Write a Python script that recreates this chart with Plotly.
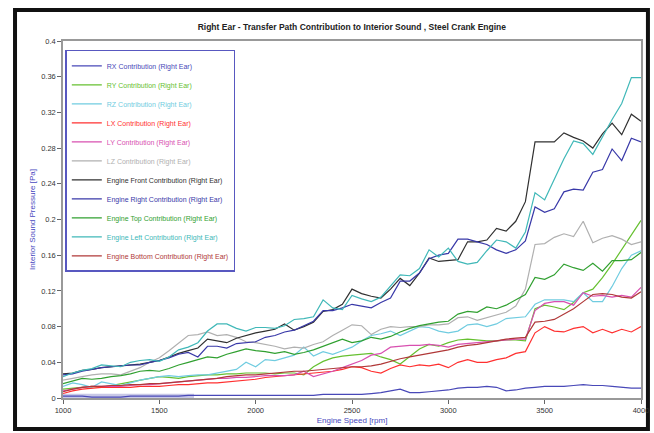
import plotly.graph_objects as go

rpm = list(range(1000, 4001, 50))

rx = [.002, .002, .002, .001, .001, .001, .001, .002, .002, .002, .002, .002, .002, .003, .003, .003, .003, .003, .003, .003,
      .003, .003, .003, .003, .003, .003, .003, .004, .004, .004, .004, .004, .005, .006, .008, .010, .006, .006, .007, .008,
      .009, .011, .012, .012, .013, .012, .008, .009, .011, .012, .013, .013, .013, .014, .015, .014, .014, .013, .012, .011, .011]
ry = [.010, .011, .012, .013, .012, .014, .016, .018, .020, .022, .024, .023, .022, .024, .025, .026, .026, .027, .027, .028,
      .028, .028, .027, .028, .028, .026, .035, .041, .045, .047, .048, .049, .050, .046, .043, .038, .047, .055, .060, .058,
      .062, .065, .066, .065, .064, .064, .065, .065, .064, .100, .104, .102, .099, .107, .118, .122, .135, .150, .166, .183, .199]
rz = [.013, .017, .015, .012, .018, .016, .014, .017, .020, .022, .024, .025, .024, .025, .026, .026, .028, .030, .032, .040,
      .035, .043, .042, .045, .048, .057, .047, .052, .049, .053, .057, .064, .070, .072, .075, .070, .075, .080, .079, .075,
      .073, .075, .082, .083, .080, .083, .089, .090, .091, .105, .110, .110, .110, .108, .118, .108, .108, .125, .145, .160, .165]
lx = [.005, .008, .010, .011, .012, .012, .012, .012, .013, .013, .013, .014, .015, .015, .016, .017, .017, .018, .019, .020,
      .021, .023, .024, .025, .026, .027, .028, .029, .030, .032, .035, .034, .030, .028, .033, .037, .035, .037, .036, .038,
      .034, .040, .043, .040, .040, .043, .045, .050, .052, .073, .080, .075, .074, .078, .080, .073, .077, .073, .077, .074, .080]
ly = [.008, .010, .012, .013, .013, .013, .013, .014, .015, .015, .016, .017, .018, .019, .020, .021, .022, .022, .023, .023,
      .024, .025, .025, .025, .026, .030, .024, .027, .030, .034, .038, .042, .048, .050, .057, .058, .059, .059, .060, .059,
      .057, .060, .061, .062, .063, .064, .065, .066, .066, .098, .106, .108, .108, .104, .118, .114, .115, .113, .115, .113, .124]
lz = [.020, .022, .024, .026, .027, .027, .026, .030, .034, .040, .045, .053, .062, .070, .071, .074, .070, .071, .068, .063,
      .062, .060, .058, .055, .057, .056, .060, .063, .070, .076, .082, .081, .071, .077, .080, .079, .080, .080, .082, .082,
      .083, .090, .091, .087, .090, .093, .096, .103, .122, .172, .173, .180, .184, .181, .198, .174, .179, .182, .178, .172, .175]
eng_front = [.027, .028, .031, .032, .034, .035, .036, .037, .038, .040, .042, .046, .050, .053, .056, .066, .064, .062, .067, .070,
             .073, .075, .077, .083, .076, .080, .085, .097, .099, .105, .122, .117, .114, .112, .122, .134, .126, .140, .157, .153,
             .154, .155, .175, .175, .177, .190, .187, .198, .220, .287, .287, .287, .297, .292, .288, .280, .296, .308, .295, .318, .310]
eng_right = [.026, .027, .030, .032, .034, .035, .036, .037, .037, .040, .042, .045, .049, .051, .046, .058, .058, .056, .061, .062,
             .063, .068, .070, .074, .076, .081, .086, .098, .098, .101, .105, .103, .101, .107, .112, .131, .131, .140, .156, .160,
             .162, .178, .178, .175, .172, .166, .162, .166, .176, .214, .208, .212, .231, .234, .233, .253, .256, .279, .266, .291, .287]
eng_top = [.016, .019, .022, .021, .022, .024, .025, .027, .030, .031, .030, .033, .037, .040, .043, .046, .045, .049, .052, .055,
           .053, .052, .050, .052, .049, .051, .054, .058, .062, .066, .062, .064, .068, .066, .069, .074, .078, .081, .083, .085,
           .086, .094, .097, .096, .102, .100, .104, .110, .116, .135, .133, .138, .150, .146, .143, .151, .142, .154, .154, .155, .163]
eng_left = [.024, .028, .031, .033, .037, .036, .035, .040, .042, .043, .041, .046, .054, .057, .062, .075, .083, .083, .078, .075,
            .079, .079, .078, .081, .088, .089, .091, .110, .101, .099, .115, .111, .108, .113, .126, .138, .137, .145, .166, .158,
            .168, .153, .150, .152, .165, .177, .175, .168, .186, .230, .222, .246, .268, .288, .285, .273, .293, .312, .330, .359, .359]
eng_bottom = [.007, .010, .012, .013, .013, .014, .014, .015, .015, .016, .016, .017, .018, .019, .020, .021, .022, .024, .025, .026,
              .026, .027, .028, .029, .030, .030, .031, .032, .033, .034, .035, .035, .036, .038, .041, .044, .046, .048, .050, .052,
              .054, .057, .059, .060, .062, .064, .066, .067, .068, .085, .086, .088, .094, .100, .108, .116, .117, .116, .113, .112, .119]

# highlighted band near zero at the start
band_x = [1000, 1680]
band_y = [0.002, 0.002]

names = ["RX Contribution (Right Ear)", "RY Contribution (Right Ear)", "RZ Contribution (Right Ear)",
         "LX Contribution (Right Ear)", "LY Contribution (Right Ear)", "LZ Contribution (Right Ear)",
         "Engine Front Contribution (Right Ear)", "Engine Right Contribution (Right Ear)",
         "Engine Top Contribution (Right Ear)", "Engine Left Contribution (Right Ear)",
         "Engine Bottom Contribution (Right Ear)"]
series = [rx, ry, rz, lx, ly, lz, eng_front, eng_right, eng_top, eng_left, eng_bottom]
colors = ["#4848b8", "#66c030", "#70cce0", "#ff3030", "#d850b0", "#b0b0b0",
          "#303030", "#3838a8", "#30a030", "#40b8b8", "#b03838"]

fig = go.Figure()
fig.add_trace(go.Scatter(x=band_x, y=band_y, mode="lines", line=dict(color="#c8c8e6", width=5),
                         showlegend=False, hoverinfo="skip"))
for n, s, c in zip(names, series, colors):
    fig.add_trace(go.Scatter(x=rpm, y=s, mode="lines", line=dict(color=c, width=1.2),
                             name=f'<span style="color:{c}">{n}</span>'))

font_family = "Liberation Sans Narrow, Arial Narrow, Liberation Sans, Arial, sans-serif"

fig.update_layout(
    width=654, height=433,
    paper_bgcolor="white", plot_bgcolor="white",
    margin=dict(l=63, r=13, t=41, b=35, autoexpand=False),
    font=dict(family=font_family, size=7.5, color="#333333"),
    title=dict(text="<b>Right Ear - Transfer Path Contribution to Interior Sound , Steel Crank Engine</b>",
               x=0.538, xanchor="center", y=0.937, yanchor="middle",
               font=dict(family=font_family, size=8.5, color="#222222")),
    showlegend=True,
    legend=dict(x=0.004, y=0.975, xanchor="left", yanchor="top",
                bgcolor="white", bordercolor="#5858c0", borderwidth=1.5,
                font=dict(family=font_family, size=7), tracegroupgap=0,
                itemwidth=30),
    xaxis=dict(range=[1000, 4000], tickvals=[1000, 1500, 2000, 2500, 3000, 3500, 4000],
               ticks="outside", ticklen=4, tickcolor="#666666", automargin=True,
               showline=True, linecolor="#999999", linewidth=1.5, mirror=True,
               showgrid=False, zeroline=False,
               title=dict(text="Engine Speed [rpm]", standoff=4,
                          font=dict(family=font_family, size=8, color="#4848c0"))),
    yaxis=dict(range=[0, 0.4], tickvals=[0, 0.04, 0.08, 0.12, 0.16, 0.2, 0.24, 0.28, 0.32, 0.36, 0.4],
               ticktext=["0", "0.04", "0.08", "0.12", "0.16", "0.2", "0.24", "0.28", "0.32", "0.36", "0.4"],
               ticks="outside", ticklen=4, tickcolor="#666666", automargin=True,
               showline=True, linecolor="#999999", linewidth=1.5, mirror=True,
               showgrid=False, zeroline=False,
               title=dict(text="Interior Sound Pressure [Pa]", standoff=4,
                          font=dict(family=font_family, size=8, color="#4848c0"))),
    shapes=[dict(type="rect", xref="paper", yref="paper",
                 x0=-0.083, x1=1.012, y0=-0.087, y1=1.087,
                 line=dict(color="#111111", width=4), fillcolor="rgba(0,0,0,0)", layer="below")],
)

fig.write_html("out.html", config={"displayModeBar": False},
               post_script="document.body.style.margin='0';")
